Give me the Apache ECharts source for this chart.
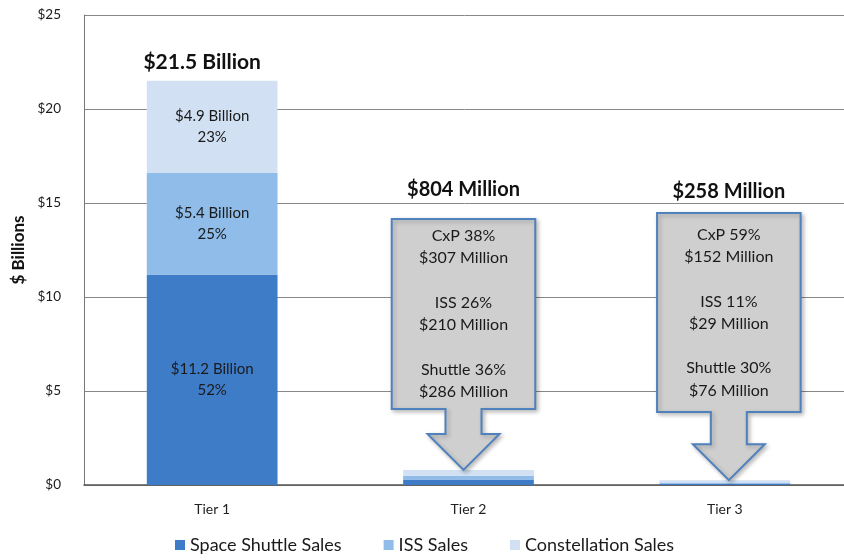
<!DOCTYPE html>
<html>
<head>
<meta charset="utf-8">
<script src="https://cdn.jsdelivr.net/npm/echarts@6/dist/echarts.min.js"></script>
<style>
  html, body { margin: 0; padding: 0; background: #fff; }
  #chart { width: 844px; height: 560px; }
</style>
</head>
<body>
<div id="chart"></div>
<script>
// sales by tier, $ billions
const categories = ['Tier 1', 'Tier 2', 'Tier 3']
const shuttleSales = [11.2, 0.286, 0.076]
const issSales = [5.4, 0.210, 0.029]
const cxpSales = [4.9, 0.307, 0.152]
const yTicks = [0, 5, 10, 15, 20, 25]

// text shown on the chart
const totalLabels = ['$21.5 Billion', '$804 Million', '$258 Million']
const shuttleLabels = ['$11.2 Billion\n52%', '', '']
const issLabels = ['$5.4 Billion\n25%', '', '']
const cxpLabels = ['$4.9 Billion\n23%', '', '']
const calloutLines = [
  null,
  ['CxP 38%', '$307 Million', '', 'ISS 26%', '$210 Million', '', 'Shuttle 36%', '$286 Million'],
  ['CxP 59%', '$152 Million', '', 'ISS 11%', '$29 Million', '', 'Shuttle 30%', '$76 Million']
]

// callout layout in axis units: box top, box bottom, title
const calloutBox = [null, [14.15, 4.04, 15.69], [14.47, 3.88, 15.59]]

const FONT = 'Lato, "Open Sans", sans-serif'
const totals = categories.map((c, i) => shuttleSales[i] + issSales[i] + cxpSales[i])

function renderCallout(params, api) {
  const i = api.value(0)
  const band = api.size([1, 0])[0]
  const top = api.coord([i, api.value(1)])
  const children = []
  const box = calloutBox[i]
  if (!box) {
    children.push({
      type: 'text',
      style: {
        x: top[0] - 10, y: top[1] - 19,
        text: totalLabels[i], fill: '#111', font: 'bold 21px ' + FONT,
        align: 'center', verticalAlign: 'middle'
      }
    })
    return { type: 'group', children: children }
  }
  const cx = top[0] + (i === 1 ? -5 : 4)
  const bt = api.coord([i, box[0]])[1]
  const bb = api.coord([i, box[1]])[1]
  const ty = api.coord([i, box[2]])[1]
  const tipY = top[1]
  const headY = tipY - 36
  const half = band * 0.28
  const shaft = 18
  const head = 36
  children.push({
    type: 'polygon',
    shape: {
      points: [
        [cx - half, bt], [cx + half, bt], [cx + half, bb],
        [cx + shaft, bb], [cx + shaft, headY], [cx + head, headY],
        [cx, tipY], [cx - head, headY], [cx - shaft, headY],
        [cx - shaft, bb], [cx - half, bb]
      ]
    },
    style: {
      fill: '#cfcfcf', stroke: '#4f81bd', lineWidth: 2,
      shadowBlur: 4, shadowOffsetX: 2, shadowOffsetY: 2, shadowColor: 'rgba(0,0,0,0.25)'
    }
  })
  children.push({
    type: 'text',
    style: {
      x: cx, y: (bt + bb) / 2,
      text: calloutLines[i].join('\n'), fill: '#1a1a1a', font: '16px ' + FONT,
      lineHeight: 22.3, align: 'center', verticalAlign: 'middle'
    }
  })
  children.push({
    type: 'text',
    style: {
      x: cx, y: ty,
      text: totalLabels[i], fill: '#111', font: 'bold 20px ' + FONT,
      align: 'center', verticalAlign: 'middle'
    }
  })
  return { type: 'group', children: children }
}

function segLabel(labels) {
  return {
    show: true,
    position: 'inside',
    color: '#1a1a1a',
    fontFamily: FONT,
    fontSize: 15,
    lineHeight: 21,
    formatter: p => labels[p.dataIndex]
  }
}

const chart = echarts.init(document.getElementById('chart'))
chart.setOption({
  backgroundColor: '#fff',
  animation: false,
  grid: { left: 84, width: 769, top: 15, bottom: 75, outerBoundsMode: 'none' },
  legend: {
    data: ['Space Shuttle Sales', 'ISS Sales', 'Constellation Sales'],
    bottom: 1,
    left: 170,
    itemWidth: 10,
    itemHeight: 10,
    itemGap: 42,
    icon: 'rect',
    textStyle: { fontFamily: FONT, fontSize: 18, color: '#1a1a1a' }
  },
  xAxis: {
    type: 'category',
    data: categories,
    axisTick: { show: false },
    axisLine: { lineStyle: { color: '#555', width: 1.5 } },
    axisLabel: { fontFamily: FONT, fontSize: 14, color: '#222', margin: 17 }
  },
  yAxis: {
    type: 'value',
    min: yTicks[0],
    max: yTicks[yTicks.length - 1],
    interval: 5,
    name: '$ Billions',
    nameLocation: 'middle',
    nameGap: 46,
    nameTextStyle: { fontFamily: FONT, fontSize: 17, fontWeight: 'bold', color: '#111' },
    axisLine: { show: true, lineStyle: { color: '#777' } },
    axisTick: { show: false },
    axisLabel: { fontFamily: FONT, fontSize: 13.5, color: '#1a1a1a', margin: 23, formatter: v => '$' + v },
    splitLine: { lineStyle: { color: '#888', width: 1 } }
  },
  series: [
    {
      name: 'Space Shuttle Sales',
      type: 'bar',
      stack: 'sales',
      barWidth: '51%',
      data: shuttleSales,
      itemStyle: { color: '#3f7cc8' },
      label: segLabel(shuttleLabels)
    },
    {
      name: 'ISS Sales',
      type: 'bar',
      stack: 'sales',
      data: issSales,
      itemStyle: { color: '#8fbce8' },
      label: segLabel(issLabels)
    },
    {
      name: 'Constellation Sales',
      type: 'bar',
      stack: 'sales',
      data: cxpSales,
      itemStyle: { color: '#d1e1f3' },
      label: segLabel(cxpLabels)
    },
    {
      name: 'callouts',
      type: 'custom',
      z: 10,
      silent: true,
      renderItem: renderCallout,
      data: totals.map((t, i) => [i, t])
    }
  ]
})
</script>
</body>
</html>
